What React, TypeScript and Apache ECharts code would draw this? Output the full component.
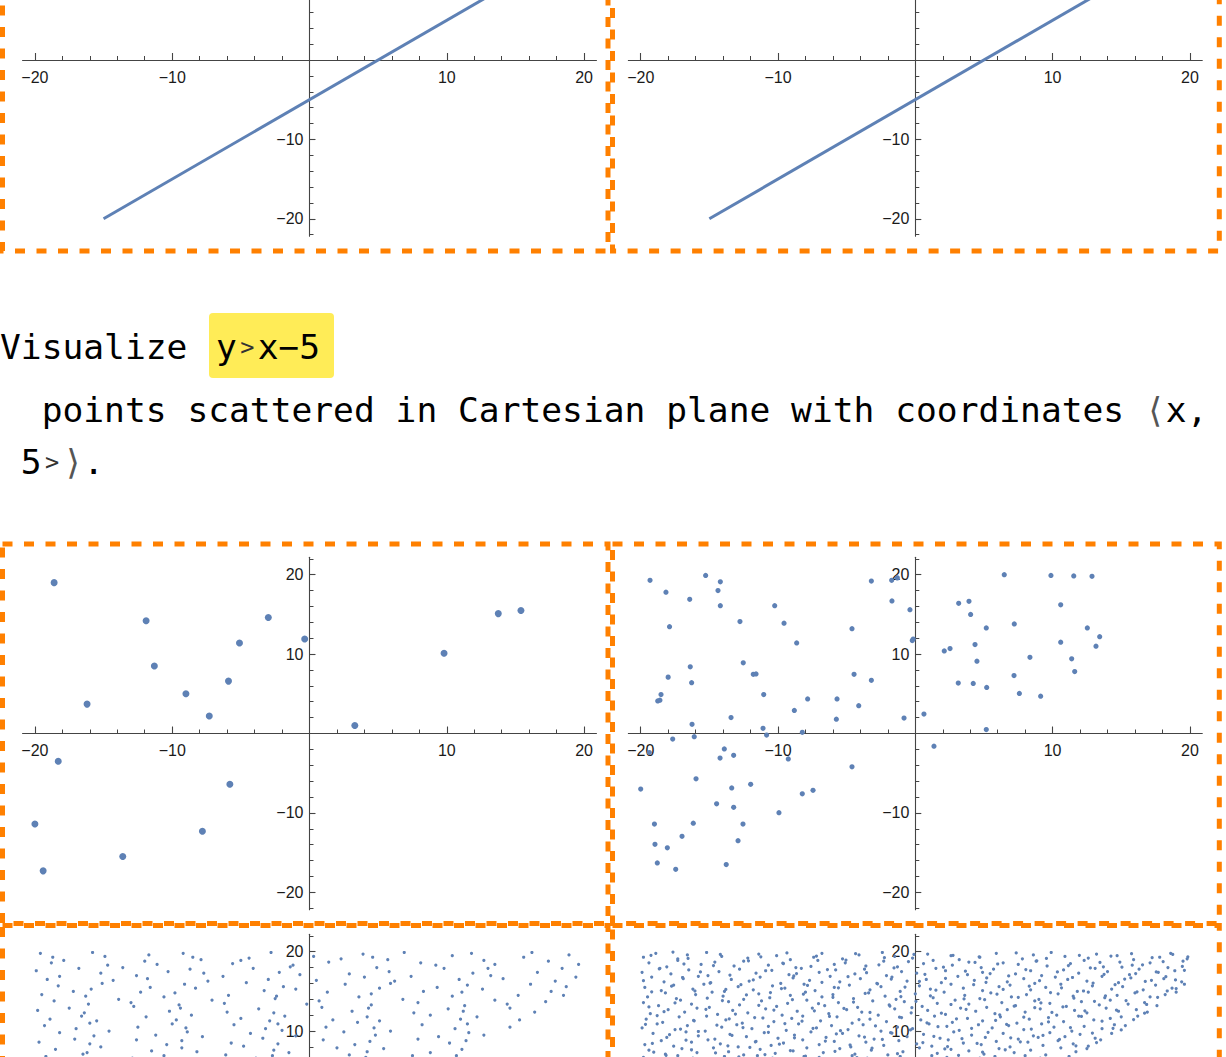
import React, { useEffect, useRef } from "react";
import * as echarts from "echarts";

// ---------------- data ----------------
const majorTickValues = [-20, -10, 10, 20];
const xMinorTickValues = [-18, -16, -14, -12, -8, -6, -4, -2, 2, 4, 6, 8, 12, 14, 16, 18];
const yMinorTickValues = [-22, -18, -16, -14, -12, -8, -6, -4, -2, 2, 4, 6, 8, 12, 14, 16, 18, 22];

// tick labels that fall inside the visible page, per row of panels
const xLabelsTop = [-20, -10, 10, 20];
const yLabelsTop = [-20, -10];
const xLabelsMid = [-20, -10, 10, 20];
const yLabelsMid = [-20, -10, 10, 20];
const xLabelsBottom: number[] = [];
const yLabelsBottom = [10, 20];

// y = x - 5, drawn as a dense run of points (top two panels)
const lineTopLeft = [[-15, -20], [20, 15]];
const lineTopRight = [[-15, -20], [20, 15]];

// 20 points (middle-left panel)
const pointsSparse = [
  [-18.6, 19.0], [-16.2, 3.7], [-11.9, 14.2], [-11.3, 8.5], [-9.0, 5.0],
  [-7.3, 2.2], [-5.9, 6.6], [-5.1, 11.4], [-3.0, 14.6], [-0.35, 11.9],
  [3.3, 1.0], [9.8, 10.1], [13.75, 15.1], [15.4, 15.5], [-18.3, -3.5],
  [-20.0, -11.4], [-19.4, -17.3], [-13.6, -15.5], [-7.8, -12.3], [-5.8, -6.4],
];

// ~100 points (middle-right panel)
const pointsMedium = [
  [-19.32, 19.3], [-18.16, 17.8], [-17.9, 13.45], [-16.43, 16.9], [-15.27, 19.9],
  [-14.2, 19.1], [-14.37, 18.0], [-14.2, 16.1], [-12.77, 14.1], [-10.24, 16.1],
  [-9.56, 13.9], [-8.64, 11.4], [-4.61, 13.2], [-3.2, 19.2], [-1.72, 19.3],
  [-1.31, 19.6], [-1.7, 16.7], [-0.39, 15.6], [-0.22, 11.7], [-0.15, 11.9],
  [-16.39, 8.4], [-18.0, 7.1], [-16.29, 6.4], [-18.52, 4.9], [-18.76, 4.1],
  [-18.6, 4.2], [-12.53, 8.9], [-11.8, 7.45], [-11.6, 7.5], [-11.04, 4.9],
  [-13.42, 2.0], [-16.26, 1.15], [-11.09, 0.65], [-10.83, -0.2], [-8.81, 2.9],
  [-7.84, 4.35], [-8.23, 0.15], [-5.7, 4.35], [-5.75, 1.8], [-4.46, 7.45],
  [-4.12, 3.5], [-3.2, 6.7], [-0.82, 1.95], [-17.67, -0.7], [-16.1, -0.4],
  [0.63, 2.45], [2.11, 10.4], [2.53, 10.7], [3.16, 16.4], [3.91, 16.65],
  [4.03, 15.0], [4.35, 11.2], [4.49, 9.1], [5.17, 13.3], [3.13, 6.35],
  [4.22, 6.3], [5.2, 5.8], [5.17, 0.5], [6.48, 20.0], [7.21, 13.8],
  [7.19, 7.3], [7.58, 5.05], [8.35, 9.6], [9.13, 4.7], [9.88, 19.9],
  [10.59, 16.2], [10.59, 11.5], [11.54, 19.85], [11.39, 9.4], [11.61, 7.8],
  [12.53, 13.3], [12.87, 19.8], [13.43, 12.2], [13.16, 11.0], [-19.37, -2.4],
  [-20.0, -7.0], [-15.97, -5.7], [-13.91, -1.95], [-14.22, -3.1], [-13.23, -2.75],
  [-9.25, -3.2], [-11.99, -6.4], [-13.37, -6.85], [-14.47, -8.85], [-13.23, -9.3],
  [-9.93, -9.97], [-8.23, -7.6], [-7.45, -7.15], [-4.61, -4.2], [-19.0, -11.4],
  [-16.17, -11.3], [-12.55, -11.4], [-16.99, -12.95], [-18.96, -13.95], [-18.06, -14.4],
  [-12.91, -13.5], [-18.79, -16.3], [-17.45, -17.1], [-13.77, -16.5], [1.36, -1.6],
];

// many points (bottom-left panel; only the part above y≈6.5 is in view)
const pointsDenseLeft = [
  [-19.6, 19.8], [-18.7, 19.3], [-15.8, 19.9], [-14.9, 19.4], [-11.7, 19.6], [-9.2, 19.8], [-8.5, 19.3], [-4.4, 19.2], [-2.8, 19.9],
  [0.3, 19.4], [3.9, 19.7], [4.6, 19.3], [6.9, 19.9], [10.4, 19.5], [11.8, 19.8], [15.6, 19.3], [16.2, 19.9], [18.9, 19.6],
  [-18.8, 18.6], [-17.9, 18.9], [-14.7, 18.3], [-12.0, 18.8], [-11.1, 18.4], [-7.9, 19.0], [-5.6, 18.5], [-5.0, 18.9], [-1.2, 18.3],
  [1.4, 18.7], [2.3, 19.1], [5.7, 19.0], [8.1, 18.6], [9.2, 18.3], [12.7, 18.9], [13.5, 18.4], [17.4, 18.8], [19.6, 18.4],
  [-19.9, 17.6], [-16.8, 17.9], [-15.2, 17.3], [-13.6, 18.0], [-10.3, 17.5], [-8.7, 17.8], [-7.7, 17.3], [-4.1, 17.9], [-2.2, 17.4],
  [-1.4, 18.1], [2.9, 17.2], [4.9, 18.0], [5.8, 17.5], [9.8, 17.9], [11.9, 17.3], [13.0, 17.9], [16.6, 17.4], [18.4, 17.9],
  [-19.1, 16.5], [-18.2, 16.9], [-14.3, 16.4], [-12.6, 17.0], [-11.8, 16.6], [-7.4, 16.3], [-6.3, 16.9], [-3.0, 16.5], [-0.7, 17.1],
  [0.5, 16.4], [4.0, 16.8], [6.2, 16.3], [7.4, 16.9], [10.9, 16.5], [13.2, 17.0], [14.1, 16.6], [17.9, 16.3], [19.4, 16.8],
  [-18.3, 15.7], [-15.9, 15.3], [-15.1, 16.0], [-11.6, 15.5], [-9.1, 15.9], [-8.3, 15.4], [-4.6, 16.1], [-1.9, 15.6], [-1.0, 15.3],
  [2.6, 15.9], [5.1, 15.4], [5.9, 16.0], [9.3, 15.5], [11.5, 15.8], [12.6, 15.3], [16.1, 15.9], [18.7, 15.6],
  [-19.5, 14.6], [-17.2, 15.0], [-16.3, 14.4], [-12.3, 14.9], [-10.6, 14.3], [-9.8, 14.8], [-5.9, 14.5], [-3.3, 15.1], [-2.4, 14.4],
  [1.3, 14.9], [3.6, 14.3], [4.5, 14.7], [8.3, 15.0], [10.4, 14.4], [11.1, 14.9], [15.2, 14.5], [17.6, 15.0], [18.5, 14.5],
  [-18.6, 13.8], [-16.1, 13.4], [-13.9, 14.0], [-13.0, 13.6], [-9.5, 13.3], [-7.1, 13.9], [-6.2, 13.5], [-2.5, 14.1], [-0.2, 13.4],
  [0.7, 13.8], [4.5, 13.3], [6.8, 14.0], [7.9, 13.6], [11.3, 13.2], [13.5, 13.9], [14.4, 13.4], [17.2, 13.7],
  [-19.8, 12.6], [-17.5, 12.9], [-16.4, 12.3], [-12.8, 13.1], [-10.2, 12.5], [-9.4, 12.9], [-6.0, 12.4], [-3.7, 12.8], [-2.6, 12.3],
  [0.9, 13.0], [3.1, 12.5], [4.3, 12.9], [7.6, 12.3], [10.1, 12.8], [11.2, 12.5], [14.6, 12.9], [16.4, 12.4],
  [-18.9, 11.5], [-16.6, 11.9], [-15.5, 11.3], [-11.9, 11.8], [-9.7, 11.4], [-8.6, 12.0], [-5.0, 11.6], [-2.9, 11.3], [-1.8, 11.9],
  [1.7, 11.4], [4.2, 11.8], [5.1, 11.3], [8.8, 12.0], [11.0, 11.5], [12.2, 11.8], [15.3, 11.4],
  [-19.3, 10.7], [-17.0, 10.3], [-16.0, 11.0], [-12.5, 10.5], [-10.0, 10.9], [-9.0, 10.4], [-5.5, 10.8], [-3.2, 10.3], [-2.3, 10.9],
  [1.2, 10.5], [3.5, 11.1], [4.7, 10.4], [8.2, 10.8], [10.6, 10.3], [11.5, 10.9], [14.6, 10.5],
  [-18.2, 9.8], [-15.7, 9.4], [-14.6, 10.0], [-11.2, 9.5], [-8.9, 9.9], [-7.8, 9.3], [-4.3, 9.7], [-2.0, 10.1], [-1.0, 9.4],
  [2.5, 9.9], [4.8, 9.5], [5.9, 10.0], [9.4, 9.3], [11.6, 9.8], [12.7, 9.5],
  [-19.7, 8.6], [-17.1, 9.0], [-16.0, 8.4], [-12.6, 8.9], [-10.4, 8.3], [-9.3, 8.8], [-5.7, 8.5], [-3.4, 9.1], [-2.3, 8.4],
  [1.0, 8.9], [3.3, 8.3], [4.4, 8.7], [7.9, 9.0], [10.2, 8.5], [11.4, 8.8],
  [-18.5, 7.7], [-16.2, 7.3], [-15.2, 8.0], [-11.5, 7.5], [-9.3, 7.9], [-8.2, 7.4], [-4.8, 8.1], [-2.6, 7.6], [-1.5, 7.3],
  [2.0, 7.9], [4.2, 7.4], [5.4, 7.8], [8.8, 7.3], [11.1, 7.7],
  [-19.2, 6.8], [-17.6, 6.5], [-16.5, 7.1], [-12.9, 6.6], [-10.6, 6.9], [-9.5, 6.5], [-6.1, 7.0], [-3.9, 6.6], [-2.7, 6.9],
  [0.7, 6.5], [2.9, 7.0], [4.1, 6.7], [7.5, 6.9], [9.8, 6.5], [10.7, 6.9],
];

// many more points (bottom-right panel; only the part above y≈6.5 is in view)
const pointsDenseRight = [
  [-19.8, 19.3], [-18.9, 19.8], [-17.3, 19.1], [-16.6, 19.6], [-15.2, 19.9], [-14.1, 19.4], [-12.2, 19.2], [-11.4, 19.7], [-10.1, 19.5],
  [-9.1, 19.0], [-7.4, 19.3], [-6.8, 19.8], [-5.3, 19.1], [-4.1, 19.6], [-2.4, 19.9], [-1.5, 19.4], [-0.2, 19.2], [0.9, 19.7],
  [2.6, 19.5], [3.2, 19.0], [4.7, 19.3], [5.9, 19.8], [7.8, 19.1], [8.6, 19.6], [9.9, 19.9], [10.9, 19.4], [12.6, 19.2],
  [13.2, 19.7], [14.7, 19.5], [15.9, 19.0], [17.8, 19.3], [18.6, 19.8], [19.8, 19.1],
  [-19.4, 18.6], [-18.1, 18.1], [-17.3, 18.9], [-15.6, 18.4], [-14.6, 18.7], [-13.2, 18.2], [-12.5, 18.8], [-10.7, 18.3], [-9.6, 18.5],
  [-8.7, 18.0], [-7.1, 18.9], [-5.9, 18.4], [-5.1, 18.6], [-3.6, 18.2], [-2.3, 18.8], [-1.3, 18.1], [0.6, 18.5], [1.3, 18.9],
  [2.7, 18.3], [3.9, 18.7], [4.8, 18.0], [6.4, 18.6], [7.5, 18.4], [8.8, 18.8], [9.6, 18.2], [11.3, 18.5], [12.3, 18.9],
  [13.7, 18.1], [14.9, 18.7], [15.8, 18.3], [17.1, 18.6], [18.4, 18.0], [19.5, 18.8],
  [-19.9, 17.4], [-18.6, 17.9], [-17.8, 17.2], [-16.5, 17.7], [-15.1, 17.0], [-14.3, 17.5], [-12.8, 17.8], [-11.6, 17.3], [-10.9, 17.6],
  [-9.2, 17.1], [-8.3, 17.9], [-7.0, 17.4], [-5.8, 17.7], [-4.4, 17.2], [-3.7, 17.8], [-2.1, 17.0], [-1.0, 17.5], [0.1, 17.3],
  [1.5, 17.9], [2.2, 17.6], [3.8, 17.1], [4.9, 17.4], [5.7, 17.8], [7.3, 17.2], [8.4, 17.6], [9.2, 17.0], [10.8, 17.7],
  [11.9, 17.3], [13.1, 17.9], [14.0, 17.5], [15.6, 17.1], [16.3, 17.8], [17.7, 17.4], [18.9, 17.6],
  [-19.2, 16.8], [-18.3, 16.2], [-16.9, 16.6], [-15.8, 16.9], [-14.9, 16.1], [-13.4, 16.5], [-12.1, 16.3], [-11.3, 16.8], [-9.8, 16.0],
  [-8.9, 16.7], [-7.7, 16.4], [-6.2, 16.9], [-5.5, 16.2], [-4.0, 16.6], [-2.8, 16.0], [-1.7, 16.8], [-0.6, 16.3], [0.8, 16.5],
  [1.9, 16.1], [3.1, 16.9], [4.3, 16.4], [5.2, 16.7], [6.7, 16.2], [7.9, 16.6], [8.7, 16.0], [10.2, 16.8], [11.1, 16.5],
  [12.5, 16.3], [13.6, 16.9], [14.8, 16.1], [15.7, 16.7], [17.2, 16.4], [18.1, 16.6], [19.4, 16.2],
  [-19.7, 15.5], [-18.5, 15.1], [-17.6, 15.8], [-16.2, 15.3], [-15.4, 15.9], [-13.9, 15.0], [-12.9, 15.6], [-11.8, 15.2], [-10.4, 15.7],
  [-9.5, 15.4], [-8.1, 15.9], [-7.3, 15.1], [-5.9, 15.5], [-4.8, 15.8], [-3.3, 15.2], [-2.5, 15.6], [-1.1, 15.0], [0.3, 15.7],
  [1.1, 15.3], [2.6, 15.9], [3.5, 15.4], [4.9, 15.1], [6.1, 15.6], [6.9, 15.8], [8.4, 15.2], [9.5, 15.5], [10.6, 15.9],
  [11.8, 15.0], [12.9, 15.7], [14.3, 15.3], [15.1, 15.6], [16.6, 15.2], [17.5, 15.8], [18.7, 15.4], [19.6, 15.9],
  [-19.5, 14.3], [-18.2, 14.8], [-17.4, 14.1], [-16.0, 14.6], [-14.8, 14.9], [-14.0, 14.4], [-12.5, 14.0], [-11.4, 14.7], [-10.6, 14.2],
  [-9.1, 14.5], [-8.0, 14.9], [-6.8, 14.3], [-6.0, 14.6], [-4.5, 14.1], [-3.4, 14.8], [-2.2, 14.4], [-1.4, 14.0], [0.0, 14.7],
  [1.3, 14.2], [2.1, 14.9], [3.6, 14.5], [4.7, 14.1], [5.5, 14.8], [7.0, 14.3], [8.1, 14.6], [9.0, 14.0], [10.4, 14.7],
  [11.5, 14.4], [12.6, 14.9], [13.8, 14.2], [14.7, 14.5], [16.0, 14.8], [17.1, 14.3], [18.2, 14.6], [19.0, 14.9],
  [-19.8, 13.6], [-18.7, 13.2], [-17.1, 13.9], [-16.3, 13.4], [-15.0, 13.0], [-13.6, 13.7], [-12.8, 13.3], [-11.2, 13.8], [-10.1, 13.1],
  [-9.3, 13.5], [-7.9, 13.9], [-6.6, 13.2], [-5.6, 13.6], [-4.2, 13.0], [-3.1, 13.8], [-1.9, 13.3], [-0.8, 13.7], [0.5, 13.1],
  [1.6, 13.5], [2.9, 13.9], [3.9, 13.4], [5.2, 13.0], [6.3, 13.6], [7.3, 13.2], [8.7, 13.8], [9.8, 13.5], [11.0, 13.1],
  [12.1, 13.7], [13.4, 13.3], [14.2, 13.9], [15.5, 13.4], [16.7, 13.6], [17.6, 13.2],
  [-19.3, 12.2], [-18.0, 12.7], [-16.8, 12.4], [-15.9, 12.9], [-14.4, 12.1], [-13.3, 12.6], [-12.2, 12.3], [-10.9, 12.8], [-9.7, 12.0],
  [-8.6, 12.5], [-7.5, 12.9], [-6.3, 12.2], [-5.0, 12.7], [-3.9, 12.4], [-2.7, 12.0], [-1.5, 12.8], [-0.3, 12.3], [0.9, 12.6],
  [2.2, 12.1], [3.3, 12.9], [4.4, 12.5], [5.8, 12.2], [6.7, 12.7], [8.0, 12.4], [9.1, 12.8], [10.3, 12.0], [11.6, 12.6],
  [12.5, 12.3], [13.9, 12.9], [14.8, 12.5], [16.1, 12.7], [16.9, 12.4],
  [-19.6, 11.5], [-18.4, 11.1], [-17.2, 11.8], [-16.1, 11.3], [-15.2, 11.9], [-13.8, 11.4], [-12.6, 11.0], [-11.7, 11.7], [-10.3, 11.2],
  [-9.0, 11.6], [-8.2, 11.9], [-6.9, 11.3], [-5.7, 11.8], [-4.6, 11.0], [-3.3, 11.5], [-2.1, 11.2], [-1.0, 11.7], [0.4, 11.4],
  [1.4, 11.9], [2.7, 11.1], [3.8, 11.6], [4.9, 11.3], [6.2, 11.8], [7.4, 11.0], [8.3, 11.5], [9.7, 11.7], [10.8, 11.2],
  [11.9, 11.9], [13.0, 11.4], [14.2, 11.6], [15.0, 11.8], [16.2, 11.9],
  [-19.9, 10.4], [-18.8, 10.9], [-17.5, 10.2], [-16.6, 10.7], [-15.3, 10.0], [-14.1, 10.5], [-13.0, 10.8], [-11.9, 10.3], [-10.7, 10.6],
  [-9.4, 10.1], [-8.5, 10.9], [-7.2, 10.4], [-6.1, 10.7], [-4.9, 10.2], [-3.8, 10.8], [-2.5, 10.0], [-1.3, 10.5], [-0.2, 10.3],
  [1.0, 10.9], [2.3, 10.6], [3.2, 10.1], [4.6, 10.8], [5.6, 10.4], [6.8, 10.7], [7.9, 10.2], [9.2, 10.9], [10.1, 10.5],
  [11.4, 10.0], [12.3, 10.6], [13.6, 10.3], [14.5, 10.8], [15.3, 10.7],
  [-19.1, 9.7], [-18.1, 9.2], [-16.7, 9.9], [-15.8, 9.4], [-14.6, 9.0], [-13.5, 9.6], [-12.3, 9.3], [-11.0, 9.8], [-10.0, 9.1],
  [-8.8, 9.5], [-7.6, 9.9], [-6.5, 9.2], [-5.3, 9.7], [-4.1, 9.4], [-3.0, 9.0], [-1.8, 9.8], [-0.6, 9.3], [0.6, 9.6],
  [1.8, 9.1], [2.8, 9.9], [4.1, 9.5], [5.1, 9.2], [6.4, 9.7], [7.5, 9.0], [8.6, 9.4], [9.8, 9.8], [10.9, 9.3],
  [12.0, 9.6], [13.1, 9.1], [14.3, 9.7],
  [-19.7, 8.3], [-18.5, 8.8], [-17.6, 8.1], [-16.3, 8.6], [-15.1, 8.9], [-14.2, 8.4], [-12.9, 8.0], [-11.6, 8.7], [-10.5, 8.2],
  [-9.6, 8.5], [-8.2, 8.9], [-7.0, 8.3], [-5.9, 8.7], [-4.7, 8.0], [-3.6, 8.6], [-2.3, 8.2], [-1.2, 8.8], [0.1, 8.4],
  [1.2, 8.1], [2.4, 8.9], [3.5, 8.5], [4.8, 8.3], [5.9, 8.7], [6.9, 8.0], [8.2, 8.6], [9.3, 8.2], [10.4, 8.8],
  [11.5, 8.4], [12.6, 8.1], [13.5, 8.9],
  [-19.4, 7.6], [-18.2, 7.1], [-17.0, 7.8], [-15.9, 7.3], [-14.7, 7.9], [-13.6, 7.4], [-12.5, 7.0], [-11.3, 7.7], [-10.2, 7.2],
  [-8.9, 7.5], [-7.9, 7.9], [-6.7, 7.3], [-5.5, 7.8], [-4.4, 7.1], [-3.2, 7.6], [-2.0, 7.0], [-0.9, 7.4], [0.3, 7.9],
  [1.6, 7.2], [2.6, 7.7], [3.9, 7.5], [5.0, 7.1], [6.1, 7.8], [7.2, 7.3], [8.4, 7.6], [9.5, 7.0], [10.6, 7.9],
  [11.7, 7.4], [12.5, 7.8],
  [-19.8, 6.7], [-18.6, 6.5], [-17.3, 6.9], [-16.2, 6.6], [-15.0, 6.4], [-13.9, 6.8], [-12.7, 6.5], [-11.5, 6.9], [-10.4, 6.6],
  [-9.2, 6.4], [-8.1, 6.8], [-7.0, 6.7], [-5.8, 6.5], [-4.6, 6.9], [-3.5, 6.6], [-2.3, 6.4], [-1.1, 6.8], [0.0, 6.5],
  [1.2, 6.9], [2.3, 6.7], [3.5, 6.4], [4.7, 6.6], [5.8, 6.8], [6.9, 6.5], [8.0, 6.9], [9.1, 6.6], [10.3, 6.4],
  [11.2, 6.8],
];

// further points of the same bottom-right panel, filling between the ones above
const pointsDenseRightExtra = [
  [-19.25, 19.55], [-19.8, 16.35], [-19.4, 13.05], [-19.65, 10.85], [-19.15, 8.45],
  [-18.65, 17.85], [-19.2, 14.95], [-18.8, 11.95], [-19.05, 7.35],
  [-17.65, 19.95], [-17.75, 15.65], [-18.3, 12.45], [-17.9, 9.55], [-18.15, 6.95],
  [-16.85, 18.45], [-16.95, 16.75], [-17.5, 13.55], [-17.1, 10.25],
  [-16.55, 19.15], [-16.05, 15.05], [-16.15, 11.35], [-16.7, 8.85], [-16.3, 7.65],
  [-15.65, 17.45], [-15.15, 14.15], [-15.25, 12.75], [-15.8, 9.95],
  [-14.7, 18.25], [-14.95, 16.05], [-14.45, 10.75], [-14.55, 7.25],
  [-14.2, 19.65], [-13.8, 15.25], [-14.05, 13.85], [-13.55, 11.55], [-13.65, 8.15],
  [-13.5, 17.05], [-13.1, 12.15], [-13.35, 9.45], [-12.85, 6.75],
  [-12.15, 18.85], [-12.7, 15.85], [-12.3, 14.55], [-12.55, 10.45], [-12.05, 7.95],
  [-11.25, 19.35], [-11.8, 16.45], [-11.4, 13.25], [-11.65, 8.65],
  [-10.45, 17.65], [-10.55, 14.85], [-11.1, 11.65], [-10.7, 9.85], [-10.95, 7.05],
  [-9.65, 18.55], [-9.75, 15.35], [-10.3, 12.65], [-9.9, 8.35],
  [-9.35, 19.85], [-8.85, 16.95], [-8.95, 13.95], [-9.5, 10.95], [-9.1, 7.55],
  [-8.65, 17.25], [-8.15, 14.65], [-8.25, 11.25], [-8.8, 9.15],
  [-7.6, 18.15], [-7.85, 15.75], [-7.35, 12.55], [-7.45, 10.35], [-8.0, 6.85],
  [-7.2, 19.45], [-6.8, 16.15], [-7.05, 13.45], [-6.55, 8.75],
  [-6.4, 17.75], [-6.0, 14.25], [-6.25, 11.85], [-5.75, 9.65], [-5.85, 7.45],
  [-5.05, 18.95], [-5.6, 15.45], [-5.2, 12.85], [-5.45, 10.05],
  [-4.35, 19.75], [-4.9, 16.85], [-4.5, 13.65], [-4.75, 8.25], [-4.25, 6.65],
  [-3.55, 17.35], [-3.65, 14.75], [-4.1, 11.45], [-3.7, 9.25],
  [-2.65, 18.35], [-2.75, 15.95], [-3.3, 12.35], [-2.9, 10.65], [-3.15, 7.85],
  [-2.25, 19.25], [-1.75, 16.55], [-1.85, 13.15], [-2.4, 8.95],
  [-1.55, 17.95], [-1.05, 14.35], [-1.15, 11.75], [-1.7, 9.75], [-1.3, 7.15],
  [-0.5, 18.75], [-0.75, 15.55], [-0.25, 12.95], [-0.35, 10.15],
  [-0.1, 19.65], [0.3, 16.25], [0.05, 13.75], [0.55, 8.55], [0.45, 6.55],
  [0.7, 17.15], [1.1, 14.45], [0.85, 11.05], [1.35, 9.35],
  [2.05, 18.05], [1.5, 15.15], [1.9, 12.25], [1.65, 10.55], [2.15, 7.75],
  [2.75, 19.55], [2.2, 16.65], [2.6, 13.35], [2.35, 8.05],
  [3.65, 17.55], [3.55, 14.05], [3.0, 11.55], [3.4, 9.05], [3.15, 6.95],
  [4.35, 18.65], [4.25, 15.85], [3.7, 12.75], [4.1, 10.35],
  [4.65, 19.35], [5.15, 16.15], [5.05, 13.95], [4.5, 8.45], [4.9, 7.35],
  [5.45, 17.25], [5.95, 14.65], [5.85, 11.35], [5.3, 9.85],
  [6.0, 18.45], [6.4, 15.25], [6.15, 12.05], [6.65, 10.85], [6.55, 7.65],
  [7.35, 19.85], [6.8, 16.95], [7.2, 13.15], [6.95, 9.15],
  [8.05, 17.75], [7.5, 14.25], [7.9, 11.75], [7.65, 8.65],
  [8.85, 18.85], [8.3, 15.65], [8.7, 12.95], [8.45, 10.25], [8.95, 9.2],
  [9.55, 19.15], [9.05, 16.35], [9.15, 13.55], [9.7, 11.15], [9.3, 9.45],
  [10.35, 17.45], [9.85, 14.85], [9.95, 12.35], [10.5, 8.95],
  [11.15, 18.25], [10.65, 15.45], [10.75, 13.05], [11.3, 10.45],
  [11.95, 19.55], [11.45, 16.75], [11.55, 14.15], [12.1, 11.85], [11.7, 8.15],
  [12.75, 17.95], [12.25, 15.05], [12.35, 12.55], [12.9, 9.75],
  [13.45, 18.65], [12.95, 16.05], [13.05, 13.75], [13.6, 11.25], [13.2, 8.55],
  [14.25, 19.45], [13.75, 17.15], [13.85, 14.45], [14.4, 10.35],
  [15.05, 18.05], [14.55, 15.85], [14.65, 12.65], [15.0, 10.15],
  [15.75, 19.75], [15.25, 16.55], [15.35, 13.85], [15.9, 11.45],
  [16.55, 18.35], [16.05, 17.25], [16.15, 14.95], [16.7, 12.25],
  [17.25, 19.25], [16.75, 16.25], [16.85, 13.35],
  [18.05, 18.75], [17.55, 17.45], [17.65, 14.25],
  [18.75, 19.65], [18.25, 16.85], [18.35, 15.05],
  [19.45, 18.15], [18.95, 16.45], [19.0, 15.35],
  [19.85, 19.35], [19.6, 17.65],
];

// ---------------- layout helpers ----------------
const BLUE = "#5E81B5";
const ORANGE = "#FF8000";
const AXIS = "#444444";
const X_EXT = 20.9;
const Y_EXT = 22.2;
const PX_PER_X = 13.73;
const PX_PER_Y = 7.94;
const MONO = "DejaVu Sans Mono";
const FS = 34.6;

const fmt = (v: number) => (v < 0 ? "\u2212" + Math.abs(v) : String(v));

// origin (pixel) of each of the six panels and which tick labels are in view
const panelOrigins = [
  { x0: 309.5, y0: 60, xl: xLabelsTop, yl: yLabelsTop },
  { x0: 915.3, y0: 60, xl: xLabelsTop, yl: yLabelsTop },
  { x0: 309.5, y0: 733.5, xl: xLabelsMid, yl: yLabelsMid },
  { x0: 915.3, y0: 733.5, xl: xLabelsMid, yl: yLabelsMid },
  { x0: 309.5, y0: 1110.5, xl: xLabelsBottom, yl: yLabelsBottom },
  { x0: 915.3, y0: 1110.5, xl: xLabelsBottom, yl: yLabelsBottom },
];

function buildOption() {
  const grid: any[] = [];
  const xAxis: any[] = [];
  const yAxis: any[] = [];
  const halfW = X_EXT * PX_PER_X;
  const halfH = Y_EXT * PX_PER_Y;
  const labelStyle = { fontSize: 16, fontFamily: "Liberation Sans", color: "#1a1a1a" };
  panelOrigins.forEach((p, g) => {
    grid.push({
      left: p.x0 - halfW,
      top: p.y0 - halfH,
      width: 2 * halfW,
      height: 2 * halfH,
      containLabel: false,
      outerBoundsMode: "none",
    });
    const common = { type: "value", gridIndex: g, splitLine: { show: false }, z: 1 };
    const xBase = { ...common, min: -X_EXT, max: X_EXT, position: "bottom", offset: -halfH };
    const yBase = { ...common, min: -Y_EXT, max: Y_EXT, position: "left", offset: -halfW };
    xAxis.push({
      ...xBase,
      axisLine: { show: true, onZero: false, lineStyle: { color: AXIS, width: 1.1 } },
      axisTick: { show: true, inside: true, length: 7, customValues: majorTickValues, lineStyle: { color: AXIS, width: 1.1 } },
      axisLabel: p.xl.length
        ? { show: true, customValues: p.xl, formatter: fmt, margin: 9, ...labelStyle }
        : { show: false },
    });
    xAxis.push({
      ...xBase,
      axisLine: { show: false, onZero: false },
      axisTick: { show: true, inside: true, length: 4, customValues: xMinorTickValues, lineStyle: { color: AXIS, width: 1 } },
      axisLabel: { show: false },
    });
    yAxis.push({
      ...yBase,
      axisLine: { show: true, onZero: false, lineStyle: { color: AXIS, width: 1.1 } },
      axisTick: { show: true, inside: true, length: 6, customValues: majorTickValues, lineStyle: { color: AXIS, width: 1.1 } },
      axisLabel: p.yl.length
        ? { show: true, customValues: p.yl, formatter: fmt, margin: 6, ...labelStyle }
        : { show: false },
    });
    yAxis.push({
      ...yBase,
      axisLine: { show: false, onZero: false },
      axisTick: { show: true, inside: true, length: 4, customValues: yMinorTickValues, lineStyle: { color: AXIS, width: 1 } },
      axisLabel: { show: false },
    });
  });

  const lineSeries = (data: number[][], g: number) => ({
    type: "line", xAxisIndex: 2 * g, yAxisIndex: 2 * g, data, symbol: "none",
    lineStyle: { color: BLUE, width: 3 }, silent: true, z: 3,
  });
  const scatterSeries = (data: number[][], g: number, size: number) => ({
    type: "scatter", xAxisIndex: 2 * g, yAxisIndex: 2 * g, data, symbolSize: size,
    itemStyle: { color: BLUE, opacity: 1 }, silent: true, z: 3,
  });

  const border = (x: number, y: number, w: number, h: number) => ({
    type: "rect", z: 10, silent: true,
    shape: { x, y, width: w, height: h },
    style: { fill: "none", stroke: ORANGE, lineWidth: 5, lineDash: [10, 11.5] },
  });

  const CW = FS * 0.602; // monospace cell width
  const graphic: any[] = [
    border(2.5, -130, 605.5, 381),
    border(612.5, -130, 606.8, 381),
    border(2.5, 544, 605.5, 379.5),
    border(612.5, 544, 606.8, 379.5),
    border(2.5, 925.5, 605.5, 400),
    border(612.5, 925.5, 606.8, 400),
    {
      type: "rect", z: 5, silent: true,
      shape: { x: 209, y: 313, width: 125, height: 65, r: 4 },
      style: { fill: "#FFEC57" },
    },
    {
      type: "text", z: 6, silent: true, x: 0, y: 347,
      style: { text: "Visualize", font: `${FS}px "${MONO}"`, fill: "#000", verticalAlign: "middle", align: "left" },
    },
    {
      type: "text", z: 6, silent: true, x: 216, y: 347,
      style: {
        text: "{c|y}{s|>}{p|x\u22125}", verticalAlign: "middle", align: "left",
        rich: {
          c: { fontFamily: MONO, fontSize: FS, fill: "#000", width: CW },
          s: { fontFamily: MONO, fontSize: FS * 0.68, fill: "#333", width: CW, align: "center" },
          p: { fontFamily: MONO, fontSize: FS, fill: "#000" },
        },
      },
    },
    {
      type: "text", z: 6, silent: true, x: 2 * CW, y: 410,
      style: {
        text: "{p|points scattered in Cartesian plane with coordinates }{b|\u27E8}{p|x,}",
        verticalAlign: "middle", align: "left",
        rich: {
          p: { fontFamily: MONO, fontSize: FS, fill: "#000" },
          b: { fontFamily: MONO, fontSize: FS, fill: "#555", width: CW, align: "center" },
        },
      },
    },
    {
      type: "text", z: 6, silent: true, x: CW, y: 462,
      style: {
        text: "{c|5}{s|>}{b|\u27E9}{c|.}",
        verticalAlign: "middle", align: "left",
        rich: {
          c: { fontFamily: MONO, fontSize: FS, fill: "#000", width: CW },
          s: { fontFamily: MONO, fontSize: FS * 0.68, fill: "#333", width: CW, align: "center" },
          b: { fontFamily: MONO, fontSize: FS, fill: "#555", width: CW, align: "left" },
        },
      },
    },
  ];

  return {
    animation: false,
    backgroundColor: "#ffffff",
    grid,
    xAxis,
    yAxis,
    graphic,
    series: [
      lineSeries(lineTopLeft, 0),
      lineSeries(lineTopRight, 1),
      scatterSeries(pointsSparse, 2, 7),
      scatterSeries(pointsMedium, 3, 5.2),
      scatterSeries(pointsDenseLeft, 4, 3.2),
      scatterSeries(pointsDenseRight.concat(pointsDenseRightExtra), 5, 3.2),
    ],
  };
}

export default function App() {
  const ref = useRef<HTMLDivElement>(null);
  useEffect(() => {
    document.body.style.margin = "0";
    const chart = echarts.init(ref.current as HTMLDivElement, undefined, { renderer: "svg" });
    chart.setOption(buildOption() as any);
    return () => chart.dispose();
  }, []);
  return (
    <div
      ref={ref}
      style={{ position: "absolute", left: 0, top: 0, width: 1226, height: 1057, background: "#fff" }}
    />
  );
}
